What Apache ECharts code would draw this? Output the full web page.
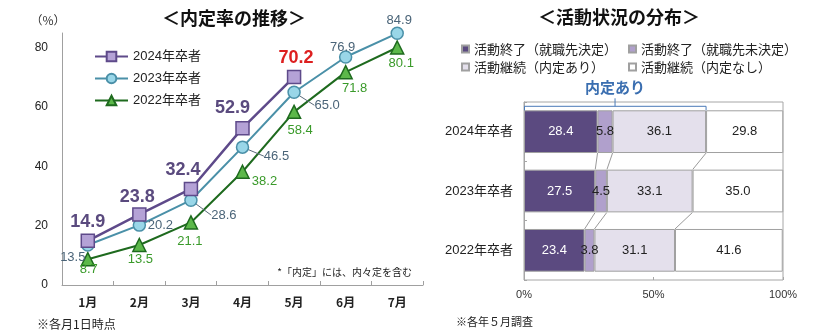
<!DOCTYPE html>
<html><head><meta charset="utf-8">
<script src="https://cdn.jsdelivr.net/npm/echarts@6/dist/echarts.min.js"></script>
<style>html,body{margin:0;padding:0;background:#fff}#c{width:836px;height:336px}</style>
</head><body><div id="c"></div>
<script>
// ---- left chart data ----
const months = ['1月','2月','3月','4月','5月','6月','7月'];
const rate2024 = [14.9, 23.8, 32.4, 52.9, 70.2, null, null];
const rate2023 = [13.5, 20.2, 28.6, 46.5, 65.0, 76.9, 84.9];
const rate2022 = [8.7, 13.5, 21.1, 38.2, 58.4, 71.8, 80.1];
const lineNames = ['2024年卒者','2023年卒者','2022年卒者'];
const yTickStep = 20;

// ---- right chart data ----
const cohorts = ['2024年卒者','2023年卒者','2022年卒者'];
const doneDecided = [28.4, 27.5, 23.4];
const doneUndecided = [5.8, 4.5, 3.8];
const contOffer = [36.1, 33.1, 31.1];
const contNoOffer = [29.8, 35.0, 41.6];
const statusNames = ['活動終了（就職先決定）','活動終了（就職先未決定）','活動継続（内定あり）','活動継続（内定なし）'];
const pctStep = 50;

// ---- label placement (style, separate from data) ----
const off2024 = [[0,-19],[-2,-17],[-8,-19],[-10,-20],[2,-19]];
const off2023 = [[-15,12],[21,0],[33,15],[34,9],[33,13],[-3,-10],[2,-13]];
const off2022 = [[1,10],[1,14],[-1,19],[22,10],[6,19],[9,16],[4,16]];
const leader2023 = [2,3,4];

const FONT = "'Liberation Sans','Noto Sans CJK JP',sans-serif";
const JP = "'Noto Sans CJK JP','Liberation Sans',sans-serif";

const chart = echarts.init(document.getElementById('c'));

const cum1 = doneDecided.map((v,i)=>v);
const cum2 = doneDecided.map((v,i)=>v+doneUndecided[i]);
const cum3 = doneDecided.map((v,i)=>v+doneUndecided[i]+contOffer[i]);
const connData = [];
for (let i = 0; i < cohorts.length - 1; i++) {
  [cum1, cum2, cum3].forEach(c => connData.push([c[i], c[i+1], i]));
}
const BARW = 0.72;

function layoutFrom(offs) {
  return function (p) {
    const o = offs[p.dataIndex] || [0,0];
    return { dx: o[0], dy: o[1] };
  };
}
const fmt1 = p => Number(p.value).toFixed(1);

const barColors = ['#5b4a80','#b0a0cc','#e4e0ec','#ffffff'];
const barData = [doneDecided, doneUndecided, contOffer, contNoOffer];

const option = {
  backgroundColor: '#fff',
  animation: false,
  textStyle: { fontFamily: FONT },
  grid: [
    { left: 62, top: 33, width: 361, height: 252 },
    { left: 524, top: 102, width: 259, height: 178, show: true, borderColor: '#a6a6a6', borderWidth: 1, backgroundColor: 'transparent' }
  ],
  xAxis: [
    { gridIndex: 0, type: 'category', data: months, boundaryGap: true,
      axisLine: { lineStyle: { color: '#a0a0a0', width: 1 } },
      axisTick: { show: true, inside: true, length: 4, lineStyle: { color: '#a0a0a0' } },
      axisLabel: { fontSize: 12, color: '#222', margin: 11, fontFamily: JP, fontWeight: 'bold' } },
    { gridIndex: 1, type: 'value', min: 0, max: 100, interval: pctStep,
      splitLine: { show: false },
      axisLine: { show: false },
      axisTick: { show: true, inside: true, length: 3, lineStyle: { color: '#a6a6a6' } },
      axisLabel: { formatter: '{value}%', fontSize: 11, color: '#333', margin: 9 } }
  ],
  yAxis: [
    { gridIndex: 0, type: 'value', min: 0, max: 85, interval: yTickStep,
      splitLine: { show: false },
      axisLine: { show: true, lineStyle: { color: '#a0a0a0' } },
      axisTick: { show: false },
      axisLabel: { fontSize: 12, color: '#222', margin: 14,
        formatter: v => (v % yTickStep === 0 ? String(v) : '') } },
    { gridIndex: 1, type: 'category', data: cohorts, inverse: true,
      axisLine: { show: true, lineStyle: { color: '#a6a6a6' } },
      axisTick: { show: true, inside: true, length: 3, lineStyle: { color: '#a6a6a6' } },
      axisLabel: { fontSize: 13, color: '#222', margin: 11 } }
  ],
  legend: [
    { data: lineNames, orient: 'vertical', left: 89, top: 45,
      itemWidth: 33, itemHeight: 12, itemGap: 9,
      textStyle: { fontSize: 13, color: '#222' } },
    { data: statusNames, orient: 'horizontal', left: 456, top: 37, width: 345,
      icon: 'rect', itemWidth: 7, itemHeight: 7, itemGap: 4,
      textStyle: { fontSize: 13, color: '#222', width: 150, lineHeight: 14, fontFamily: JP } }
  ],
  series: [
    { name: lineNames[2], type: 'line', xAxisIndex: 0, yAxisIndex: 0, z: 3,
      data: rate2022, symbol: 'triangle', symbolSize: 13,
      itemStyle: { color: '#5cb84a', borderColor: '#1e6a1e', borderWidth: 1.5 },
      lineStyle: { color: '#1e6a1e', width: 2 },
      label: { show: true, position: 'inside', fontSize: 13, color: '#3a9a2a', formatter: fmt1 },
      labelLayout: layoutFrom(off2022) },
    { name: lineNames[1], type: 'line', xAxisIndex: 0, yAxisIndex: 0, z: 4,
      data: rate2023.map((v,i)=>({ value: v, labelLine: { show: leader2023.includes(i) } })),
      symbol: 'circle', symbolSize: 12,
      itemStyle: { color: '#99d6e8', borderColor: '#4a90a8', borderWidth: 1.5 },
      lineStyle: { color: '#4a90a8', width: 2 },
      label: { show: true, position: 'inside', fontSize: 13, color: '#4a6478', formatter: fmt1 },
      labelLine: { show: false, lineStyle: { color: '#5a6a7a', width: 1 } },
      labelLayout: layoutFrom(off2023) },
    { name: lineNames[0], type: 'line', xAxisIndex: 0, yAxisIndex: 0, z: 5,
      data: rate2024.map((v,i)=> i === 4 ? { value: v, label: { color: '#dd2020' } } : v),
      symbol: 'rect', symbolSize: 13,
      itemStyle: { color: '#b4a2d6', borderColor: '#5e4a8a', borderWidth: 1.5 },
      lineStyle: { color: '#5e4a8a', width: 2.5 },
      label: { show: true, position: 'inside', fontSize: 18, fontWeight: 'bold', color: '#5a4a7e', formatter: fmt1 },
      labelLayout: layoutFrom(off2024) },
    ...barData.map((arr, k) => ({
      name: statusNames[k], type: 'bar', stack: 'dist', xAxisIndex: 1, yAxisIndex: 1,
      data: arr, barWidth: (BARW*100) + '%',
      itemStyle: { color: barColors[k], borderColor: '#a0a0a0', borderWidth: 1 },
      label: { show: true, position: 'inside', fontSize: 13, color: k === 0 ? '#fff' : '#222',
        formatter: fmt1 }
    })),
    { type: 'custom', xAxisIndex: 1, yAxisIndex: 1, z: 4, silent: true,
      data: connData, encode: { x: [0,1], y: 2 },
      renderItem: function (params, api) {
        const i = api.value(2);
        const a = api.coord([api.value(0), i]);
        const b = api.coord([api.value(1), i + 1]);
        const half = Math.abs(api.size([0, 1])[1]) * BARW / 2;
        return { type: 'line', shape: { x1: a[0], y1: a[1] + half, x2: b[0], y2: b[1] - half },
          style: { stroke: '#9a9a9a', lineWidth: 1 } };
      } },
    { type: 'custom', xAxisIndex: 1, yAxisIndex: 1, z: 5, silent: true, clip: false,
      data: [[cum3[0], 0]], encode: { x: 0, y: 1 },
      renderItem: function (params, api) {
        const p0 = api.coord([0, api.value(1)]);
        const p1 = api.coord([api.value(0), api.value(1)]);
        const half = Math.abs(api.size([0, 1])[1]) * BARW / 2;
        const top = p0[1] - half;
        const yb = top - 4;
        const xm = (p0[0] + p1[0]) / 2;
        return { type: 'group', children: [
          { type: 'polyline', shape: { points: [[p0[0]+0.5, top], [p0[0]+0.5, yb], [p1[0], yb], [p1[0], top]] },
            style: { stroke: '#4a7ab8', lineWidth: 1, fill: null } },
          { type: 'line', shape: { x1: xm, y1: yb, x2: xm, y2: yb - 8 }, style: { stroke: '#4a7ab8', lineWidth: 1 } },
          { type: 'text', style: { text: '内定あり', x: xm, y: top - 23, align: 'center', verticalAlign: 'middle',
            fontSize: 15, fontWeight: 'bold', fontFamily: JP, fill: '#3a6eb0' } }
        ] };
      } }
  ],
  graphic: [
    { type: 'text', x: 234, y: 18, style: { text: '＜内定率の推移＞', align: 'center', verticalAlign: 'middle', fontSize: 18, fontWeight: 'bold', fontFamily: JP, fill: '#111' } },
    { type: 'text', x: 619, y: 17, style: { text: '＜活動状況の分布＞', align: 'center', verticalAlign: 'middle', fontSize: 18, fontWeight: 'bold', fontFamily: JP, fill: '#111' } },
    { type: 'text', x: 48, y: 20, style: { text: '（%）', align: 'center', verticalAlign: 'middle', fontSize: 12, fontFamily: JP, fill: '#333' } },
    { type: 'text', x: 412, y: 272, style: { text: '*「内定」には、内々定を含む', align: 'right', verticalAlign: 'middle', fontSize: 10, fontFamily: JP, fill: '#222' } },
    { type: 'text', x: 37, y: 324, style: { text: '※各月1日時点', align: 'left', verticalAlign: 'middle', fontSize: 12, fontFamily: JP, fill: '#222' } },
    { type: 'text', x: 456, y: 322, style: { text: '※各年５月調査', align: 'left', verticalAlign: 'middle', fontSize: 11, fontFamily: JP, fill: '#222' } }
  ]
};
chart.setOption(option);
</script>
</body></html>
